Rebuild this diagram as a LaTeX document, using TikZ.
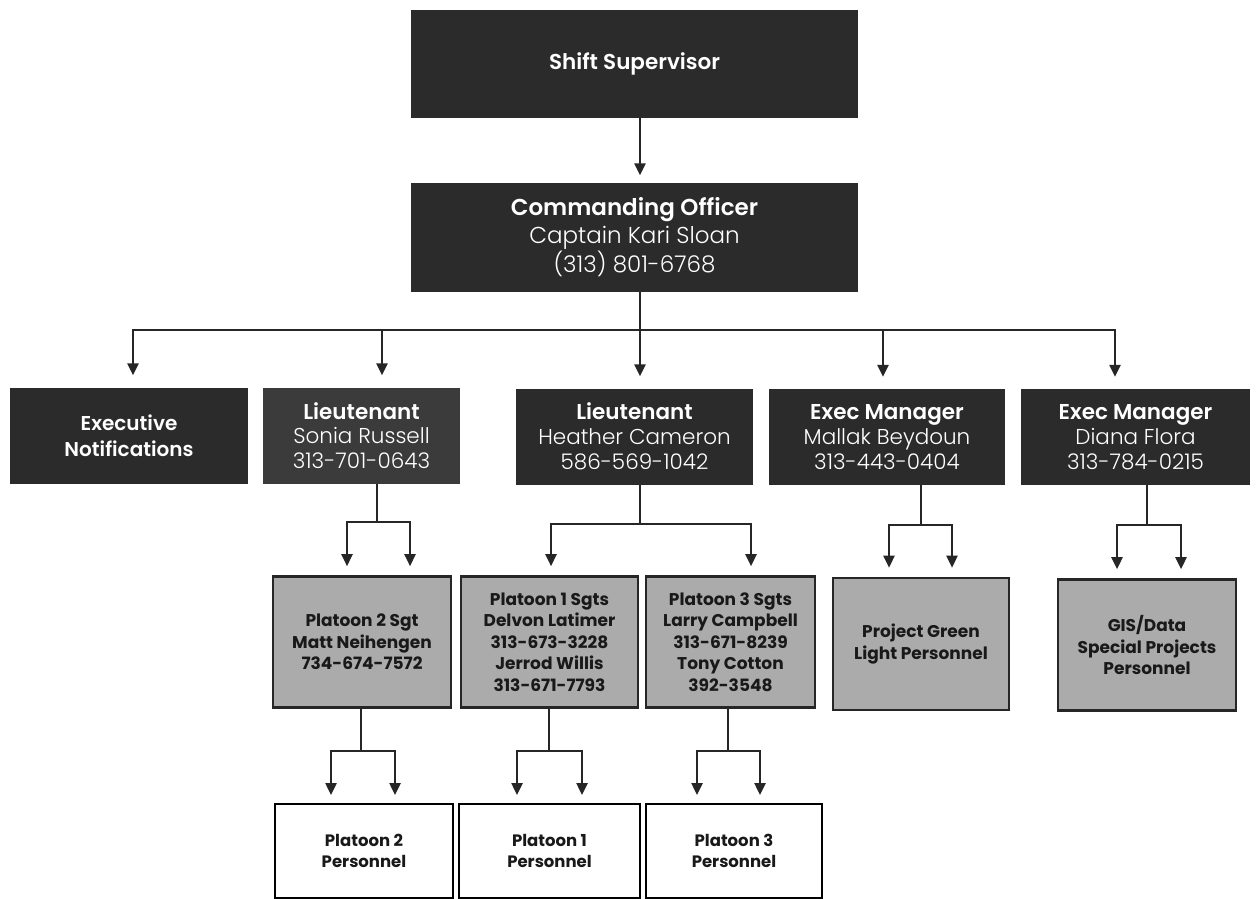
\documentclass[tikz,border=0pt]{standalone}
\usepackage{fontspec}
\setmainfont{Poppins}
\newfontfamily\headfont{Poppins SemiBold}
\newfontfamily\namefont{Poppins Light}
\newfontfamily\heavyfont{Poppins Bold}
\usetikzlibrary{arrows.meta,calc}

\definecolor{boxdark}{HTML}{2B2B2B}
\definecolor{boxmid}{HTML}{3B3B3B}
\definecolor{boxgray}{HTML}{ABABAB}
\definecolor{linedark}{HTML}{262626}

\begin{document}
\begin{tikzpicture}[x=1pt, y=-1pt,
  darkbox/.style={rectangle, fill=boxdark, text=white, align=center, inner sep=0pt},
  graybox/.style={rectangle, draw=linedark, line width=2.6pt, fill=boxgray, text=black!90,
    align=center, inner sep=0pt, font=\heavyfont\fontsize{17}{21.5}\selectfont},
  whitebox/.style={rectangle, draw=black, line width=2pt, fill=white, text=black!90,
    align=center, inner sep=0pt, font=\heavyfont\fontsize{16.5}{21}\selectfont},
  lnk/.style={draw=linedark, line width=2.4pt},
  arr/.style={lnk, -{Triangle[width=11pt,length=12pt]}}
]
\useasboundingbox (0,0) rectangle (1260,898);

% top two levels
\node[darkbox, minimum width=447pt, minimum height=108pt, font=\headfont\fontsize{21.5}{28}\selectfont]
  (sup) at (634.5,64) {Shift Supervisor};
\node[darkbox, minimum width=447pt, minimum height=109pt, font=\fontsize{23}{28.5}\selectfont]
  (co) at (634.5,237) {{\headfont Commanding Officer}\\{\namefont Captain Kari Sloan}\\{\namefont (313) 801-6768}};

% second level
\node[darkbox, minimum width=238pt, minimum height=96pt, font=\headfont\fontsize{20}{26}\selectfont]
  (exn) at (129,435.5) {Executive\\Notifications};
\node[darkbox, fill=boxmid, minimum width=197pt, minimum height=96pt, font=\fontsize{21.5}{24.5}\selectfont]
  (lts) at (361.5,435.5) {{\headfont Lieutenant}\\{\namefont Sonia Russell}\\{\namefont 313-701-0643}};
\node[darkbox, minimum width=237pt, minimum height=96pt, font=\fontsize{21.5}{25}\selectfont]
  (lth) at (634.5,436.5) {{\headfont Lieutenant}\\{\namefont Heather Cameron}\\{\namefont 586-569-1042}};
\node[darkbox, minimum width=236pt, minimum height=96pt, font=\fontsize{21.5}{25}\selectfont]
  (emb) at (887,437) {{\headfont Exec Manager}\\{\namefont Mallak Beydoun}\\{\namefont 313-443-0404}};
\node[darkbox, minimum width=229pt, minimum height=96pt, font=\fontsize{21.5}{25}\selectfont]
  (emf) at (1135.5,437) {{\headfont Exec Manager}\\{\namefont Diana Flora}\\{\namefont 313-784-0215}};

% sergeants
\node[graybox, minimum width=178pt, minimum height=131pt] (p2s) at (362,642) {Platoon 2 Sgt\\Matt Neihengen\\734-674-7572};
\node[graybox, minimum width=177pt, minimum height=131pt] (p1s) at (549.5,642) {Platoon 1 Sgts\\Delvon Latimer\\313-673-3228\\Jerrod Willis\\313-671-7793};
\node[graybox, minimum width=169pt, minimum height=131pt] (p3s) at (730.5,642) {Platoon 3 Sgts\\Larry Campbell\\313-671-8239\\Tony Cotton\\392-3548};
\node[graybox, minimum width=176pt, minimum height=132pt] (pgl) at (921,644) {Project Green\\Light Personnel};
\node[graybox, minimum width=178pt, minimum height=131pt] (gis) at (1147,645) {GIS/Data\\Special Projects\\Personnel};

% personnel
\node[whitebox, minimum width=178pt, minimum height=94pt] (p2p) at (364,851) {Platoon 2\\Personnel};
\node[whitebox, minimum width=181pt, minimum height=94pt] (p1p) at (549.5,851) {Platoon 1\\Personnel};
\node[whitebox, minimum width=176pt, minimum height=94pt] (p3p) at (734,851) {Platoon 3\\Personnel};

% junctions
\coordinate (jco) at (640,330);
\coordinate (jlts) at (377,522);
\coordinate (jlth) at (640,524);
\coordinate (jemb) at (921,525);
\coordinate (jemf) at (1147,525);
\coordinate (jp2) at (361,751);
\coordinate (jp1) at (549,751);
\coordinate (jp3) at (728,751);

% connectors
\draw[arr, shorten >=7pt] (sup.south -| jco) -- (co.north -| jco);
\draw[lnk] (co.south -| jco) -- (jco);
\draw[arr, shorten >=12pt] (jco) -| ([xshift=4pt]exn.north);
\draw[arr, shorten >=12pt] (jco) -| ([xshift=20.5pt]lts.north);
\draw[arr, shorten >=12pt] (jco) -- (lth.north -| jco);
\draw[arr, shorten >=12pt] (jco) -| ([xshift=-4pt]emb.north);
\draw[arr, shorten >=12pt] (jco) -| ([xshift=-20.5pt]emf.north);

\draw[lnk] (lts.south -| jlts) -- (jlts);
\draw[arr, shorten >=9pt] (jlts) -| ([xshift=-15pt]p2s.north);
\draw[arr, shorten >=9pt] (jlts) -| ([xshift=48pt]p2s.north);
\draw[lnk] (lth.south -| jlth) -- (jlth);
\draw[arr, shorten >=9pt] (jlth) -| ([xshift=1.5pt]p1s.north);
\draw[arr, shorten >=9pt] (jlth) -| ([xshift=20.5pt]p3s.north);
\draw[lnk] (emb.south -| jemb) -- (jemb);
\draw[arr, shorten >=9pt] (jemb) -| ([xshift=-32pt]pgl.north);
\draw[arr, shorten >=9pt] (jemb) -| ([xshift=31pt]pgl.north);
\draw[lnk] (emf.south -| jemf) -- (jemf);
\draw[arr, shorten >=9pt] (jemf) -| ([xshift=-30pt]gis.north);
\draw[arr, shorten >=9pt] (jemf) -| ([xshift=34pt]gis.north);

\draw[lnk] (p2s.south -| jp2) -- (jp2);
\draw[arr, shorten >=8pt] (jp2) -| ([xshift=-33pt]p2p.north);
\draw[arr, shorten >=8pt] (jp2) -| ([xshift=31pt]p2p.north);
\draw[lnk] (p1s.south -| jp1) -- (jp1);
\draw[arr, shorten >=8pt] (jp1) -| ([xshift=-32.5pt]p1p.north);
\draw[arr, shorten >=8pt] (jp1) -| ([xshift=32.5pt]p1p.north);
\draw[lnk] (p3s.south -| jp3) -- (jp3);
\draw[arr, shorten >=8pt] (jp3) -| ([xshift=-37pt]p3p.north);
\draw[arr, shorten >=8pt] (jp3) -| ([xshift=26pt]p3p.north);

\end{tikzpicture}
\end{document}
